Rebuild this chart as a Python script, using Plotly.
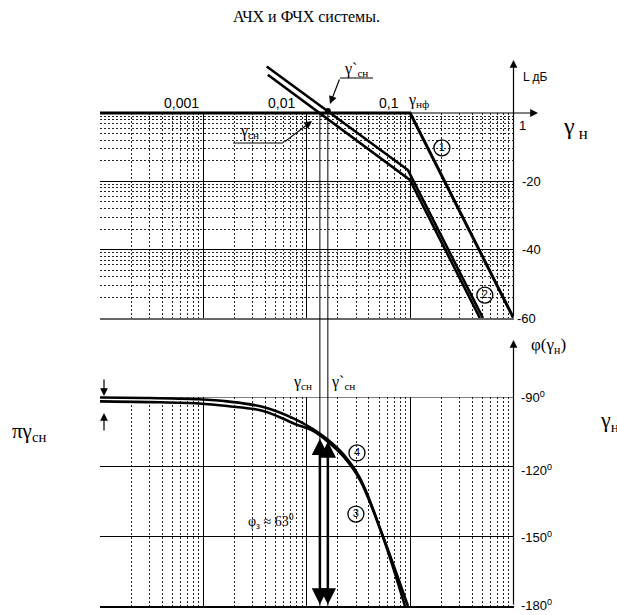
import math
import plotly.graph_objects as go

W, H = 617, 615

# ---------------- data ----------------
decade_vals = [0.001, 0.01, 0.1]
decade_labels = ["0,001", "0,01", "0,1"]
db_tick_vals = [0, -20, -40, -60]
db_tick_labels = ["1", "-20", "-40", "-60"]
phase_tick_vals = [-90, -120, -150, -180]
phase_tick_labels = ["-90<sup>0</sup>", "-120<sup>0</sup>", "-150<sup>0</sup>", "-180<sup>0</sup>"]

# curve 1 (desired magnitude response)
c1_g = [0.0001, 0.1, 1.0]
c1_db = [0, 0, -60]
# curve 2 (double line)
c2a_g = [0.0041, 0.0953, 0.506]
c2a_db = [13.6, -16.7, -60]
c2b_g = [0.0042, 0.0995, 0.473]
c2b_db = [11.2, -19.6, -60]

# phase curves 4 (upper) and 3 (lower)
ph4_g = [0.0001, 0.0003, 0.0009, 0.0017, 0.0038, 0.0077, 0.0115, 0.0157, 0.0224, 0.0327, 0.0546, 0.0953]
ph4_deg = [-90.2, -90.4, -91.0, -91.9, -94.3, -99.5, -103.8, -108.1, -114.5, -124.9, -149.9, -180]
ph3_g = [0.0001, 0.0003, 0.0009, 0.0017, 0.0038, 0.0077, 0.0115, 0.0157, 0.0224, 0.0327, 0.0546, 0.0891]
ph3_deg = [-91.9, -92.2, -92.8, -93.9, -96.0, -101.6, -104.6, -108.9, -115.4, -125.7, -150.3, -180]

g_sn = 0.0134        # gamma_sn
g_sn2 = 0.0160       # gamma'_sn
phi_sn = -108.0
phi_sn2 = -109.2

circ_top_g = [0.203, 0.528]
circ_top_db = [-10.2, -53.3]
circ_top_txt = ["1", "2"]
circ_bot_g = [0.0306, 0.0299]
circ_bot_deg = [-114.1, -140.4]
circ_bot_txt = ["4", "3"]

# ---------------- layout helpers ----------------
def px(x):
    return x / W

def py(y):
    return 1 - y / H

X0, X1 = 100, 513.5
TOP0, TOP1 = 113, 318      # 0 dB ... -60 dB
BOT0, BOT1 = 397, 606      # -90 ... -180
db_per_px = 60.0 / (TOP1 - TOP0)
deg_per_px = 90.0 / (BOT1 - BOT0)
top_ext_px = 56
bot_ext_px = 380
top_max = (TOP0 - top_ext_px) * db_per_px
bot_max = -90 + (BOT0 - bot_ext_px) * deg_per_px

x_major = decade_vals
x_minor = [k * 10.0 ** d for d in range(-4, 0) for k in range(2, 10)]
db_minor = [t - 20 * math.log10(10.0 / k) for t in (0, -20, -40) for k in range(2, 10)]

SERIF = "Liberation Serif"
SANS = "Liberation Sans"
DOT = "2px,2px"

fig = go.Figure()

# top curves
fig.add_trace(go.Scatter(x=c1_g, y=c1_db, mode="lines", xaxis="x2", yaxis="y2",
                         line=dict(color="black", width=3)))
fig.add_trace(go.Scatter(x=c2a_g, y=c2a_db, mode="lines", xaxis="x2", yaxis="y2",
                         line=dict(color="black", width=2.6)))
fig.add_trace(go.Scatter(x=c2b_g, y=c2b_db, mode="lines", xaxis="x2", yaxis="y2",
                         line=dict(color="black", width=2.6)))
fig.add_trace(go.Scatter(x=[g_sn2], y=[0.6], mode="markers", xaxis="x2", yaxis="y2",
                         marker=dict(color="black", size=6)))
fig.add_trace(go.Scatter(x=circ_top_g, y=circ_top_db, mode="markers+text", xaxis="x2", yaxis="y2",
                         text=circ_top_txt, textposition="middle center",
                         textfont=dict(family=SANS, size=11, color="black"),
                         marker=dict(symbol="circle-open", size=16, color="black",
                                     line=dict(width=1.3, color="black"))))

# empty trace so that the bottom grid subplot exists
fig.add_trace(go.Scatter(x=[0.001], y=[-120], mode="markers", xaxis="x3", yaxis="y3",
                         marker=dict(opacity=0, size=1), hoverinfo="skip"))

# bottom curves
fig.add_trace(go.Scatter(x=ph4_g, y=ph4_deg, mode="lines", xaxis="x4", yaxis="y4",
                         line=dict(color="black", width=2.6, shape="spline")))
fig.add_trace(go.Scatter(x=ph3_g, y=ph3_deg, mode="lines", xaxis="x4", yaxis="y4",
                         line=dict(color="black", width=2.6, shape="spline")))
fig.add_trace(go.Scatter(x=circ_bot_g, y=circ_bot_deg, mode="markers+text", xaxis="x4", yaxis="y4",
                         text=circ_bot_txt, textposition="middle center",
                         textfont=dict(family=SANS, size=11, color="black"),
                         marker=dict(symbol="circle-open", size=16, color="black",
                                     line=dict(width=1.3, color="black"))))

grid_x = dict(type="log", range=[-4, 0], domain=[px(X0), px(X1)],
              tickvals=x_major, showticklabels=False, ticks="",
              showgrid=True, gridcolor="black", gridwidth=1, zeroline=False,
              minor=dict(tickvals=x_minor, showgrid=True, gridcolor="#222",
                         griddash=DOT, gridwidth=1, ticks=""))
hidden_x = dict(type="log", range=[-4, 0], domain=[px(X0), px(X1)], visible=False)

fig.update_layout(
    width=W, height=H, margin=dict(l=0, r=0, t=0, b=0),
    paper_bgcolor="white", plot_bgcolor="rgba(0,0,0,0)", showlegend=False,
    hovermode=False,
    xaxis=dict(grid_x, anchor="y", showline=True, linecolor="#666", linewidth=2),
    yaxis=dict(domain=[py(TOP1), py(TOP0)], range=[-60, 0], anchor="x",
               tickvals=[-20, -40], showticklabels=False, ticks="", zeroline=False,
               showgrid=True, gridcolor="black", gridwidth=1,
               minor=dict(tickvals=db_minor, showgrid=True, gridcolor="#222",
                          griddash=DOT, gridwidth=1, ticks="")),
    xaxis2=dict(hidden_x, anchor="y2"),
    yaxis2=dict(domain=[py(TOP1), py(top_ext_px)], range=[-60, top_max],
                visible=False, anchor="x2"),
    xaxis3=dict(grid_x, anchor="y3", showline=True, linecolor="black", linewidth=2),
    yaxis3=dict(domain=[py(BOT1), py(BOT0)], range=[-180, -90], anchor="x3",
                tickvals=[-90, -120, -150], showticklabels=False, ticks="", zeroline=False,
                showgrid=True, gridcolor="black", gridwidth=1),
    xaxis4=dict(hidden_x, anchor="y4"),
    yaxis4=dict(domain=[py(BOT1), py(bot_ext_px)], range=[-180, bot_max],
                visible=False, anchor="x4"),
)

shapes = []
# thin vertical lines at gamma_sn, gamma'_sn through both charts
for g in (g_sn, g_sn2):
    shapes.append(dict(type="line", xref="x", yref="paper", x0=g, x1=g,
                       y0=py(BOT1), y1=py(TOP0), line=dict(color="black", width=1)))
# leader lines
shapes.append(dict(type="line", xref="paper", yref="paper", x0=px(340), x1=px(373),
                   y0=py(78), y1=py(78), line=dict(color="black", width=1)))
shapes.append(dict(type="line", xref="paper", yref="paper", x0=px(233), x1=px(283),
                   y0=py(143), y1=py(143), line=dict(color="black", width=1)))
# -90 deg border line of the phase chart
shapes.append(dict(type="line", xref="paper", yref="y3", x0=px(X0), x1=px(X1),
                   y0=-90, y1=-90, line=dict(color="black", width=1.2)))
fig.update_layout(shapes=shapes)

ann = []

def text(x, y, t, size, family=SERIF, xanchor="left"):
    ann.append(dict(x=px(x), y=py(y), xref="paper", yref="paper", text=t, showarrow=False,
                    xanchor=xanchor, yanchor="middle",
                    font=dict(family=family, size=size, color="black")))

def arrow(xt, yt, xs, ys, width=1.2, head=2, size=1.0):
    ann.append(dict(x=px(xt), y=py(yt), xref="paper", yref="paper", text="",
                    showarrow=True, axref="pixel", ayref="pixel",
                    ax=xs - xt, ay=ys - yt, arrowhead=head, arrowsize=size,
                    arrowwidth=width, arrowcolor="black"))

# title
text(306, 17, "АЧХ и ФЧХ системы.", 16, SERIF, "center")

# decade labels (top axis)
dec_label_px = [181, 281, 389]
for v, lab, xp in zip(decade_vals, decade_labels, dec_label_px):
    text(xp, 103, lab, 14, SANS, "center")
text(406, 100, "γ<sub>нф</sub>", 16)

# right labels of top chart
text(521, 77, "L дБ", 12, SANS)
label_y_top = [125, 181, 249, 318]
label_x_top = [517, 520, 520, 515]
for lab, xp, yp in zip(db_tick_labels, label_x_top, label_y_top):
    text(xp, yp, lab, 13, SANS)
text(561, 128, "γ<sub> н</sub>", 24)

# right labels of bottom chart
text(529, 346, "φ(γ<sub>н</sub>)", 17)
label_y_bot = [397, 470, 537, 605]
for lab, yp in zip(phase_tick_labels, label_y_bot):
    text(519, yp, lab, 13, SANS)
text(598, 421, "γ<sub>н</sub>", 22)

# gamma_sn labels
text(291, 382, "γ<sub>сн</sub>", 16)
text(329, 382, "γ`<sub>сн</sub>", 16)
text(342, 70, "γ`<sub>сн</sub>", 16)
text(238, 132, "γ<sub>сн</sub>", 16)
text(246, 521, "φ<sub>з</sub> ≈ 63<sup>0</sup>", 14)
text(10, 432, "πγ<sub>сн</sub>", 21)

# axis arrows
arrow(538, TOP0, 100, TOP0, 1.2, 2, 1.3)
arrow(X1, 60, X1, TOP1, 1.2, 2, 1.3)
arrow(X1, 340, X1, BOT1, 1.2, 2, 1.3)
# leader arrows
arrow(330, 104, 340, 78, 1.2, 2, 1.3)
arrow(312, 121, 283, 143, 1.2, 2, 1.3)
# pi gamma arrows at left
arrow(104, 396, 104, 378, 1.2, 2, 1.3)
arrow(104, 413, 104, 432, 1.2, 2, 1.3)

# double arrows (phase margin)
for g, ph in ((g_sn, phi_sn), (g_sn2, phi_sn2)):
    ann.append(dict(x=math.log10(g), y=ph, xref="x4", yref="y4", text="",
                    showarrow=True, axref="pixel", ax=0, ayref="y4", ay=-180,
                    arrowside="end+start", arrowhead=2, startarrowhead=2,
                    arrowsize=1.3, startarrowsize=1.3, arrowwidth=2.5, arrowcolor="black"))

fig.update_layout(annotations=ann)
fig.write_html("out.html", config={"displayModeBar": False},
               post_script="document.body.style.margin='0';document.body.style.padding='0';")
